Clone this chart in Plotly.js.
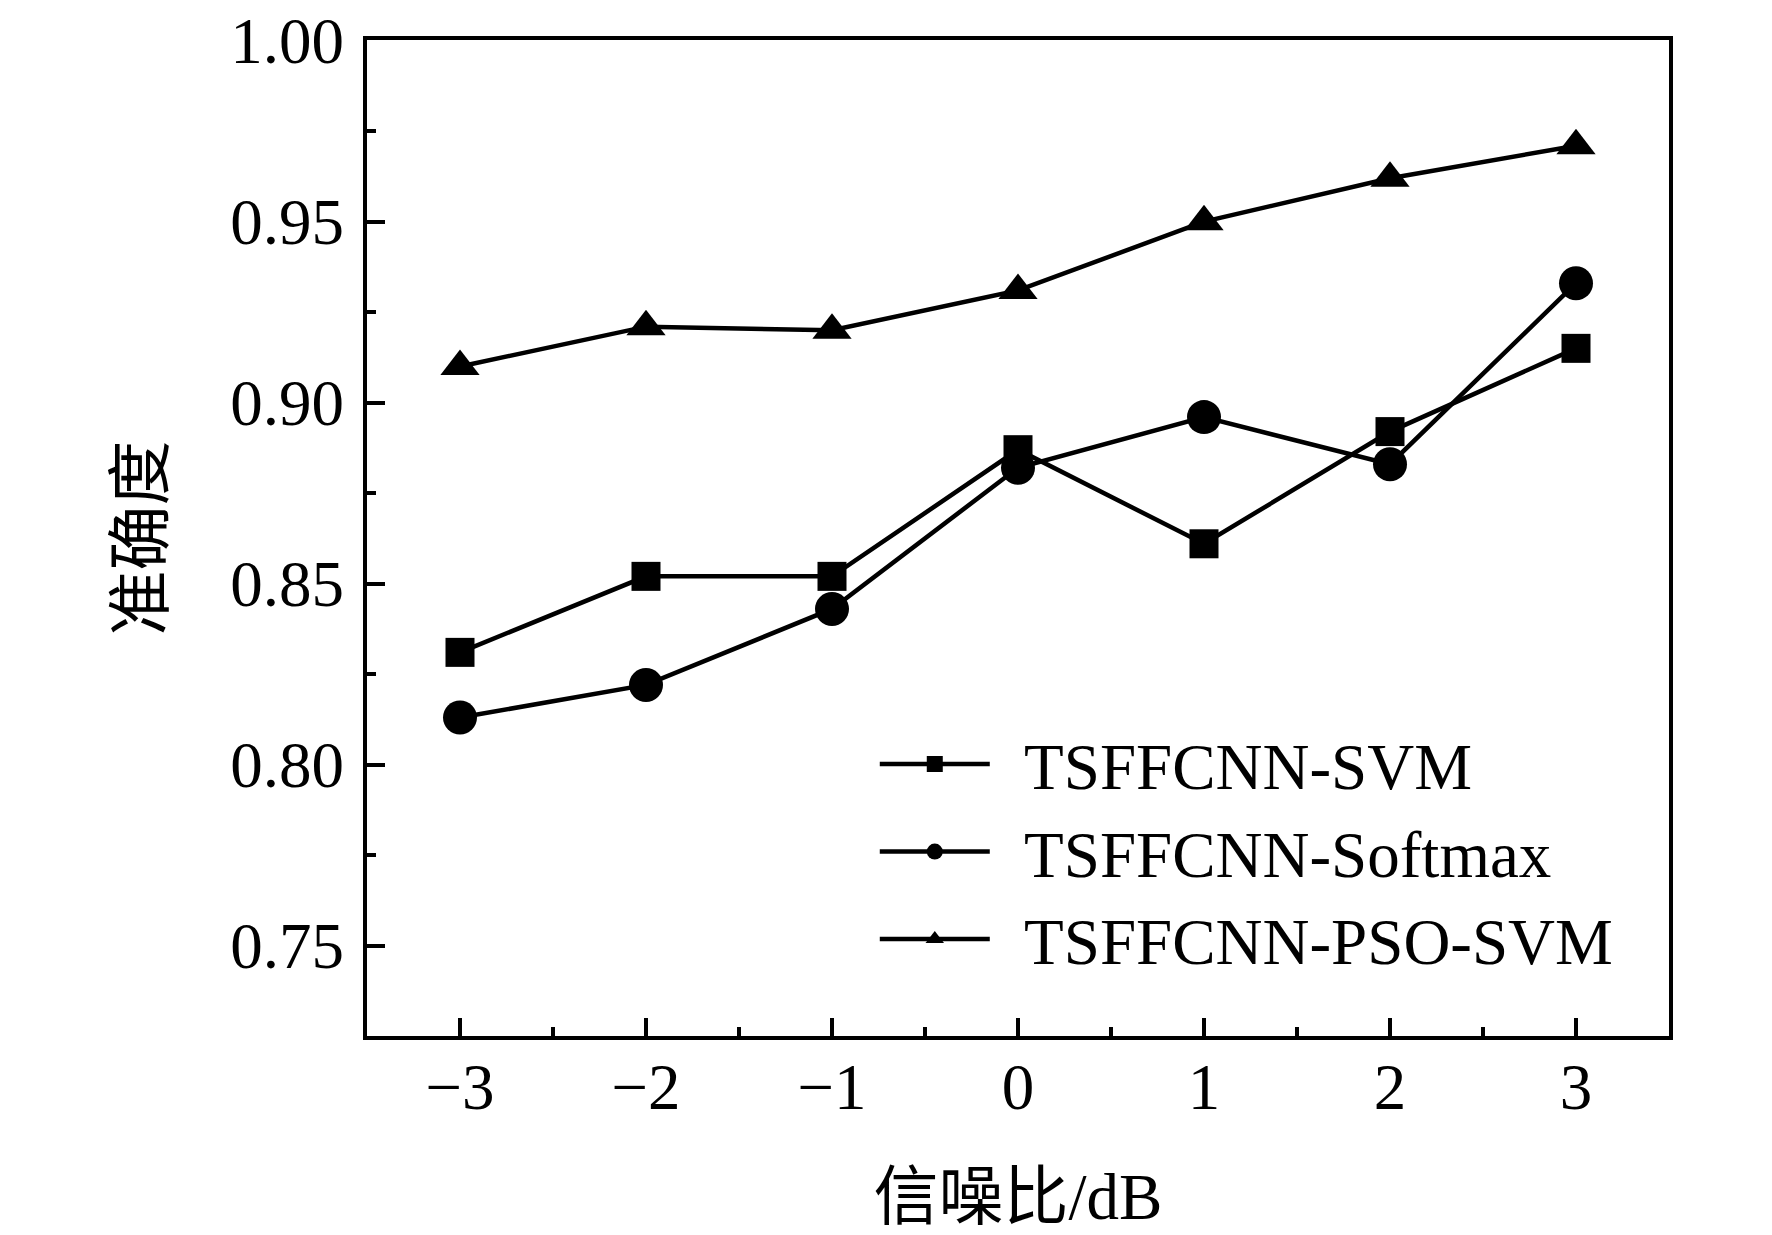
<!DOCTYPE html>
<html>
<head>
<meta charset="utf-8">
<script src="https://cdn.plot.ly/plotly-3.0.1.min.js"></script>
<style>
  html, body { margin: 0; padding: 0; background: #fff; }
  #chart { width: 1772px; height: 1235px; }
</style>
</head>
<body>
<div id="chart"></div>
<script>
const snr = [-3, -2, -1, 0, 1, 2, 3];
const accSvm = [0.831, 0.852, 0.852, 0.887, 0.861, 0.892, 0.915];
const accSoftmax = [0.813, 0.822, 0.843, 0.882, 0.896, 0.883, 0.933];
const accPsoSvm = [0.910, 0.921, 0.920, 0.931, 0.950, 0.962, 0.971];
const seriesNames = ['TSFFCNN-SVM', 'TSFFCNN-Softmax', 'TSFFCNN-PSO-SVM'];
const yTickVals = [0.75, 0.80, 0.85, 0.90, 0.95, 1.00];
const yTickText = ['0.75', '0.80', '0.85', '0.90', '0.95', '1.00'];

const fontFam = '"Liberation Serif", "Times New Roman", "Noto Sans CJK SC", serif';
// small gap between legend line and label, like the original
const gap = '\u00a0\u2009';

function trace(y, name, symbol, size) {
    return {
        x: snr,
        y: y,
        name: gap + name,
        mode: 'lines+markers',
        type: 'scatter',
        line: {color: '#000', width: 4.5},
        marker: {symbol: symbol, size: size, color: '#000'}
    };
}

var data = [
    trace(accSvm, seriesNames[0], 'square', 29),
    trace(accSoftmax, seriesNames[1], 'circle', 34),
    trace(accPsoSvm, seriesNames[2], 'triangle-up', 34)
];

var axisCommon = {
    showline: true,
    linecolor: '#000',
    linewidth: 4,
    mirror: true,
    showgrid: false,
    zeroline: false,
    ticks: 'inside',
    ticklen: 18,
    tickwidth: 4,
    tickcolor: '#000',
    tickfont: {family: fontFam, size: 65, color: '#000'}
};

var layout = {
    width: 1772,
    height: 1235,
    paper_bgcolor: '#fff',
    plot_bgcolor: '#fff',
    margin: {l: 367, r: 103, t: 40, b: 199},
    font: {family: fontFam, color: '#000'},
    showlegend: true,
    legend: {
        x: 0.39, y: 0.322, xanchor: 'left', yanchor: 'top',
        font: {family: fontFam, size: 65, color: '#000'},
        bgcolor: 'rgba(0,0,0,0)',
        itemwidth: 110,
        tracegroupgap: 0
    },
    xaxis: Object.assign({}, axisCommon, {
        range: [-3.5, 3.5],
        dtick: 1,
        tick0: 0,
        ticklabelstandoff: -9,
        minor: {dtick: 0.5, ticks: 'inside', ticklen: 9, tickwidth: 4, tickcolor: '#000'},
        title: {text: '信噪比/dB', font: {family: fontFam, size: 65, color: '#000'}, standoff: 52}
    }),
    yaxis: Object.assign({}, axisCommon, {
        range: [0.725, 1.0002],
        tickmode: 'array',
        tickvals: yTickVals,
        ticktext: yTickText,
        ticklabelstandoff: 6,
        ticklabeloverflow: 'allow',
        minor: {tickmode: 'linear', tick0: 0.725, dtick: 0.025, ticks: 'inside', ticklen: 9, tickwidth: 4, tickcolor: '#000'},
        title: {text: '准确度', font: {family: fontFam, size: 65, color: '#000'}, standoff: 47}
    })
};

Plotly.newPlot('chart', data, layout, {displayModeBar: false, staticPlot: true});
</script>
</body>
</html>
